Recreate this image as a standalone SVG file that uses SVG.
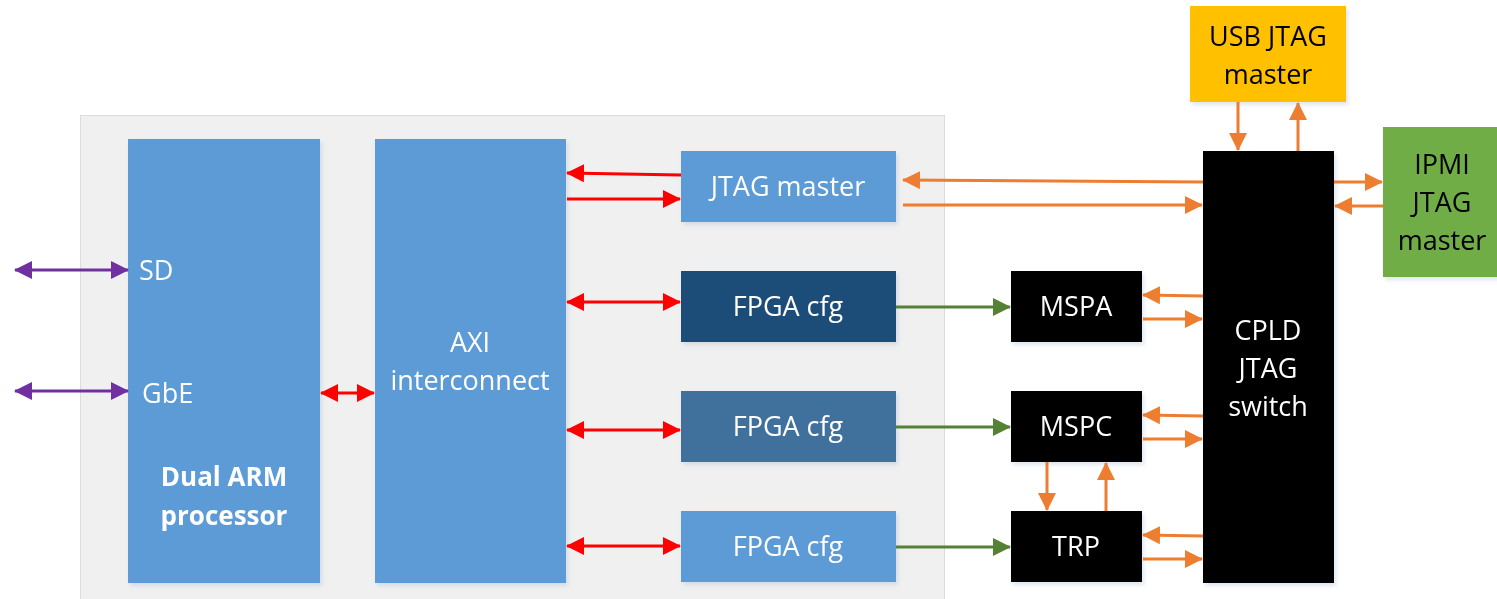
<svg xmlns="http://www.w3.org/2000/svg" width="1497" height="599" viewBox="0 0 1497 599">
  <style>
    .lbl { font-family: "Open Sans", "Liberation Sans", sans-serif; font-size: 27px; text-anchor: middle; fill: #ffffff; }
    .start { text-anchor: start; }
    .dark { fill: #000000; }
    .bold { font-weight: bold; font-size: 26px; }
    .blue { fill: #5b9bd5; }
    .blk { fill: #000000; }
    .red { stroke: #ff0000; stroke-width: 3; fill: none; }
    .org { stroke: #ed7d31; stroke-width: 3; fill: none; }
    .grn { stroke: #548235; stroke-width: 3; fill: none; }
    .pur { stroke: #7030a0; stroke-width: 3; fill: none; }
  </style>
  <defs>
    <filter id="sh" x="-10%" y="-10%" width="130%" height="130%">
      <feDropShadow dx="2" dy="3" stdDeviation="2" flood-color="#9fb7d0" flood-opacity="0.35"/>
    </filter>
    <marker id="aRed" viewBox="0 0 18 18" refX="17" refY="9" markerWidth="18" markerHeight="18" markerUnits="userSpaceOnUse" orient="auto-start-reverse">
      <path d="M0,0 L18,9 L0,18 Z" fill="#ff0000"/>
    </marker>
    <marker id="aOrg" viewBox="0 0 18 18" refX="17" refY="9" markerWidth="18" markerHeight="18" markerUnits="userSpaceOnUse" orient="auto-start-reverse">
      <path d="M0,0 L18,9 L0,18 Z" fill="#ed7d31"/>
    </marker>
    <marker id="aGrn" viewBox="0 0 18 18" refX="17" refY="9" markerWidth="18" markerHeight="18" markerUnits="userSpaceOnUse" orient="auto-start-reverse">
      <path d="M0,0 L18,9 L0,18 Z" fill="#548235"/>
    </marker>
    <marker id="aPur" viewBox="0 0 18 18" refX="17" refY="9" markerWidth="18" markerHeight="18" markerUnits="userSpaceOnUse" orient="auto-start-reverse">
      <path d="M0,0 L18,9 L0,18 Z" fill="#7030a0"/>
    </marker>
  </defs>

  <rect width="1497" height="599" fill="#ffffff"/>

  <!-- SoC boundary -->
  <g id="soc">
    <rect x="80.5" y="115.5" width="864" height="500" fill="#f0f0f0" stroke="#dcdcdc" stroke-width="1"/>
  </g>

  <g id="arm" filter="url(#sh)">
    <rect class="blue" x="128" y="139" width="192" height="444"/>
    <text class="lbl start" x="139" y="280">SD</text>
    <text class="lbl start" x="142" y="403">GbE</text>
    <text class="lbl bold" x="224" y="486">Dual ARM</text>
    <text class="lbl bold" x="224" y="525">processor</text>
  </g>

  <g id="axi" filter="url(#sh)">
    <rect class="blue" x="375" y="139" width="191" height="444"/>
    <text class="lbl" x="470" y="352">AXI</text>
    <text class="lbl" x="470" y="390">interconnect</text>
  </g>

  <g id="jtag-master" filter="url(#sh)">
    <rect class="blue" x="681" y="151" width="215" height="71"/>
    <text class="lbl" x="788" y="196">JTAG master</text>
  </g>

  <g id="fpga-cfg-1" filter="url(#sh)">
    <rect fill="#1f4e79" x="681" y="271" width="215" height="71"/>
    <text class="lbl" x="788" y="316">FPGA cfg</text>
  </g>

  <g id="fpga-cfg-2" filter="url(#sh)">
    <rect fill="#41719c" x="681" y="391" width="215" height="71"/>
    <text class="lbl" x="788" y="436">FPGA cfg</text>
  </g>

  <g id="fpga-cfg-3" filter="url(#sh)">
    <rect class="blue" x="681" y="511" width="215" height="71"/>
    <text class="lbl" x="788" y="556">FPGA cfg</text>
  </g>

  <g id="mspa" filter="url(#sh)">
    <rect class="blk" x="1011" y="271" width="131" height="71"/>
    <text class="lbl" x="1076" y="316">MSPA</text>
  </g>

  <g id="mspc" filter="url(#sh)">
    <rect class="blk" x="1011" y="391" width="131" height="71"/>
    <text class="lbl" x="1076" y="436">MSPC</text>
  </g>

  <g id="trp" filter="url(#sh)">
    <rect class="blk" x="1011" y="511" width="131" height="71"/>
    <text class="lbl" x="1076" y="556">TRP</text>
  </g>

  <g id="cpld" filter="url(#sh)">
    <rect class="blk" x="1203" y="151" width="131" height="432"/>
    <text class="lbl" x="1268" y="340">CPLD</text>
    <text class="lbl" x="1268" y="378">JTAG</text>
    <text class="lbl" x="1268" y="416">switch</text>
  </g>

  <g id="usb-jtag" filter="url(#sh)">
    <rect fill="#ffc000" x="1190" y="6" width="156" height="96"/>
    <text class="lbl dark" x="1268" y="46">USB JTAG</text>
    <text class="lbl dark" x="1268" y="84">master</text>
  </g>

  <g id="ipmi-jtag" filter="url(#sh)">
    <rect fill="#70ad47" x="1383" y="127" width="120" height="150"/>
    <text class="lbl dark" x="1442" y="174">IPMI</text>
    <text class="lbl dark" x="1442" y="212">JTAG</text>
    <text class="lbl dark" x="1442" y="250">master</text>
  </g>

  <g id="connectors">
    <!-- external ports -->
    <line class="pur" x1="15" y1="270" x2="128" y2="270" marker-start="url(#aPur)" marker-end="url(#aPur)"/>
    <line class="pur" x1="15" y1="391" x2="128" y2="391" marker-start="url(#aPur)" marker-end="url(#aPur)"/>
    <!-- ARM to AXI -->
    <line class="red" x1="321" y1="393" x2="374" y2="393" marker-start="url(#aRed)" marker-end="url(#aRed)"/>
    <!-- AXI to JTAG master -->
    <line class="red" x1="681" y1="175" x2="567" y2="173" marker-end="url(#aRed)"/>
    <line class="red" x1="567" y1="199" x2="680" y2="199" marker-end="url(#aRed)"/>
    <!-- AXI to FPGA cfg -->
    <line class="red" x1="567" y1="302" x2="680" y2="302" marker-start="url(#aRed)" marker-end="url(#aRed)"/>
    <line class="red" x1="567" y1="430" x2="680" y2="430" marker-start="url(#aRed)" marker-end="url(#aRed)"/>
    <line class="red" x1="567" y1="546" x2="680" y2="546" marker-start="url(#aRed)" marker-end="url(#aRed)"/>
    <!-- FPGA cfg to targets -->
    <line class="grn" x1="896" y1="307" x2="1010" y2="307" marker-end="url(#aGrn)"/>
    <line class="grn" x1="896" y1="427" x2="1010" y2="427" marker-end="url(#aGrn)"/>
    <line class="grn" x1="896" y1="547" x2="1010" y2="547" marker-end="url(#aGrn)"/>
    <!-- JTAG master to CPLD -->
    <line class="org" x1="1203" y1="182" x2="903" y2="180" marker-end="url(#aOrg)"/>
    <line class="org" x1="903" y1="205" x2="1202" y2="205" marker-end="url(#aOrg)"/>
    <!-- CPLD to MSPA / MSPC / TRP -->
    <line class="org" x1="1203" y1="296" x2="1143" y2="295" marker-end="url(#aOrg)"/>
    <line class="org" x1="1143" y1="319" x2="1202" y2="319" marker-end="url(#aOrg)"/>
    <line class="org" x1="1203" y1="416" x2="1143" y2="415" marker-end="url(#aOrg)"/>
    <line class="org" x1="1143" y1="439" x2="1202" y2="439" marker-end="url(#aOrg)"/>
    <line class="org" x1="1203" y1="536" x2="1143" y2="535" marker-end="url(#aOrg)"/>
    <line class="org" x1="1143" y1="559" x2="1202" y2="559" marker-end="url(#aOrg)"/>
    <!-- MSPC / TRP chain -->
    <line class="org" x1="1047" y1="462" x2="1047" y2="510" marker-end="url(#aOrg)"/>
    <line class="org" x1="1106" y1="511" x2="1106" y2="463" marker-end="url(#aOrg)"/>
    <!-- USB JTAG master -->
    <line class="org" x1="1238" y1="102" x2="1238" y2="150" marker-end="url(#aOrg)"/>
    <line class="org" x1="1298" y1="151" x2="1298" y2="103" marker-end="url(#aOrg)"/>
    <!-- IPMI JTAG master -->
    <line class="org" x1="1334" y1="182" x2="1382" y2="182" marker-end="url(#aOrg)"/>
    <line class="org" x1="1383" y1="206" x2="1335" y2="206" marker-end="url(#aOrg)"/>
  </g>
</svg>
